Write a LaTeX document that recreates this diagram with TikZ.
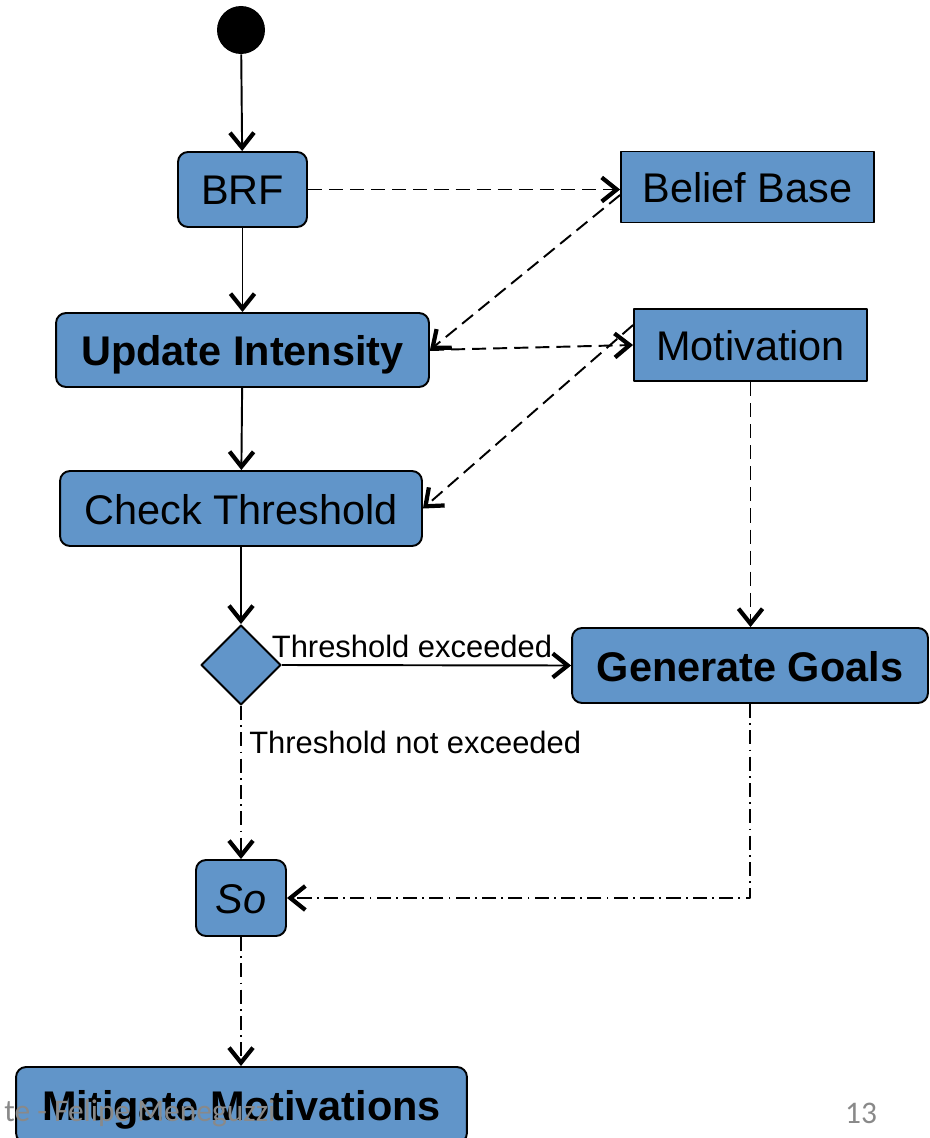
\documentclass[tikz,border=0pt]{standalone}
\usepackage{fontspec}
\setmainfont{Liberation Sans}
\newfontfamily\footfont{Carlito}
\usetikzlibrary{arrows.meta,shapes.geometric}
\definecolor{actblue}{RGB}{97,149,201}
\definecolor{footgray}{RGB}{137,137,137}
\begin{document}
\begin{tikzpicture}[x=0.02cm,y=-0.02cm,line join=round,
		>={Straight Barb[length=0.3cm,width=0.48cm,line width=2.4pt]},
		act/.style={draw,line width=1.1pt,fill=actblue,rounded corners=0.2cm,inner sep=0pt,
			text height=0.64cm,text depth=0.02cm,font=\fontsize{23.6}{28}\selectfont},
		obj/.style={draw,line width=1.1pt,fill=actblue,inner sep=0pt,
			text height=0.64cm,text depth=0.02cm,font=\fontsize{23.6}{28}\selectfont},
		flow/.style={->,line width=1.1pt},
		dep/.style={->,line width=1.1pt,dash pattern=on 8pt off 4pt},
		alt/.style={->,line width=1.1pt,dash pattern=on 8pt off 3pt on 1pt off 3pt},
		lbl/.style={inner sep=0pt,font=\fontsize{17.6}{21}\selectfont},
		foot/.style={inner sep=0pt,text=footgray,font=\footfont\fontsize{17.9}{21}\selectfont}]
	\useasboundingbox (0,0) rectangle (929,1138);
	\clip (0,0) rectangle (929,1138);
	\node[circle,fill=black,minimum size=0.96cm,inner sep=0pt] (start) at (241,30) {};
	\node[act,minimum width=2.58cm,minimum height=1.5cm] (brf) at (242.5,189.5) {BRF};
	\node[obj,minimum width=5.06cm,minimum height=1.42cm] (bb) at (747.5,187) {Belief Base};
	\node[act,minimum width=7.46cm,minimum height=1.48cm] (upd) at (242.5,350) {\bfseries Update Intensity};
	\node[obj,minimum width=4.66cm,minimum height=1.44cm] (mot) at (750.5,345) {Motivation};
	\node[act,minimum width=7.24cm,minimum height=1.5cm] (chk) at (241,508.5) {Check Threshold};
	\node[diamond,draw,line width=1.1pt,fill=actblue,inner sep=0pt,minimum width=1.6cm,minimum height=1.6cm] (dec) at (241,665) {};
	\node[act,minimum width=7.12cm,minimum height=1.5cm] (gen) at (750,665.5) {\bfseries Generate Goals};
	\node[act,minimum width=1.8cm,minimum height=1.52cm] (so) at (241,898) {\itshape So};
	\node[act,minimum width=9.02cm,minimum height=1.52cm] (mit) at (241.5,1105) {\bfseries Mitigate Motivations};
	\node[lbl] (yes) at (412,646) {Threshold exceeded};
	\node[lbl,anchor=west] (no) at (249,742) {Threshold not exceeded};
	\node[foot,anchor=west] (author) at (4,1113) {te - Felipe Meneguzzi};
	\node[foot] (page) at (861,1113) {13};
	\draw[flow] (start)--(brf);
	\draw[flow] (brf)--(upd);
	\draw[flow] (upd)--(chk);
	\draw[flow] (chk)--(dec);
	\draw[dep] (brf.east)--(brf.east-|bb.west);
	\draw[dep] ([yshift=-0.16cm]bb.west)--(upd.east);
	\draw[dep] (upd.east)--(mot.west);
	\draw[dep] ([yshift=0.4cm]mot.west)--(chk.east);
	\draw[dep] (mot.south)--(mot.south|-gen.north);
	\draw[flow] (dec.east)--(gen.west);
	\draw[alt] (dec.south)--(so.north);
	\draw[alt] (gen.south)|-(so.east);
	\draw[alt] (so.south)--(so.south|-mit.north);
\end{tikzpicture}
\end{document}
